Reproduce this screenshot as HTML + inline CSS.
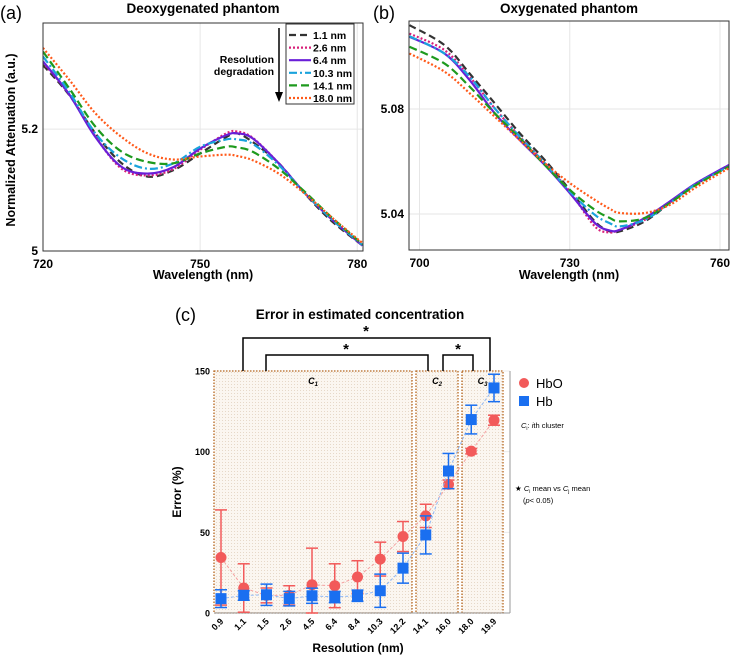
<!DOCTYPE html>
<html><head><meta charset="utf-8"><style>
body{margin:0;background:#fff;width:735px;height:657px;overflow:hidden;font-family:"Liberation Sans",Arial,sans-serif}
svg text{font-family:"Liberation Sans",Arial,sans-serif}
</style></head><body>
<svg id="fig" width="735" height="657" viewBox="0 0 735 657" xmlns="http://www.w3.org/2000/svg">
<defs>
<pattern id="dots" width="3" height="3" patternUnits="userSpaceOnUse"><rect width="3" height="3" fill="#fbf6f0"/><rect width="1" height="1" fill="#e6d8c8"/></pattern>
</defs>
<g id="pa"></g>
<g id="pb"></g>
<g id="pc"></g>
</svg>
<script>
// ---- Panel a/b data ----
const seriesLabels = ["1.1 nm","2.6 nm","6.4 nm","10.3 nm","14.1 nm","18.0 nm"];
const wlA = [720,725,730,735,740,745,750,755,757,760,765,770,775,781];
const a_1_1 = [5.305,5.256,5.193,5.144,5.122,5.133,5.160,5.187,5.193,5.179,5.144,5.094,5.050,5.009];
const a_2_6 = [5.309,5.257,5.188,5.135,5.124,5.135,5.166,5.193,5.196,5.186,5.144,5.095,5.053,5.009];
const a_6_4 = [5.311,5.257,5.187,5.138,5.127,5.138,5.168,5.190,5.193,5.185,5.144,5.095,5.053,5.009];
const a_10_3 = [5.319,5.261,5.193,5.152,5.135,5.144,5.171,5.183,5.183,5.176,5.141,5.095,5.053,5.010];
const a_14_1 = [5.327,5.267,5.204,5.163,5.146,5.144,5.160,5.171,5.170,5.163,5.135,5.097,5.056,5.011];
const a_18_0 = [5.333,5.281,5.226,5.187,5.160,5.150,5.155,5.158,5.156,5.149,5.127,5.094,5.056,5.013];
const wlB = [698,705,710,715,720,725,730,735,738,740,745,750,755,761.8];
const b_1_1 = [5.1119,5.1043,5.0935,5.0822,5.0708,5.0606,5.0492,5.0372,5.0334,5.0334,5.0372,5.0442,5.0511,5.0587];
const b_2_6 = [5.1087,5.1024,5.0923,5.0803,5.0695,5.0594,5.0486,5.0353,5.0330,5.0340,5.0378,5.0444,5.0514,5.0585];
const b_6_4 = [5.1075,5.1011,5.0910,5.0784,5.0682,5.0587,5.0480,5.0366,5.0337,5.0340,5.0385,5.0448,5.0514,5.0587];
const b_10_3 = [5.1077,5.1011,5.0923,5.0803,5.0695,5.0594,5.0486,5.0397,5.0365,5.0353,5.0378,5.0442,5.0511,5.0581];
const b_14_1 = [5.1037,5.0973,5.0885,5.0784,5.0689,5.0587,5.0492,5.0416,5.0385,5.0372,5.0385,5.0442,5.0508,5.0581];
const b_18_0 = [5.1011,5.0942,5.0860,5.0771,5.0682,5.0594,5.0518,5.0454,5.0420,5.0404,5.0404,5.0435,5.0499,5.0575];
const aTicksX = [720,750,780];
const aTicksY = [5,5.2];
const bTicksX = [700,730,760];
const bTicksY = [5.04,5.08];
// ---- Panel c data ----
const resolutions = ["0.9","1.1","1.5","2.6","4.5","6.4","8.4","10.3","12.2","14.1","16.0","18.0","19.9"];
const hboMean = [34.4,15.5,10.9,10.9,17.5,16.9,22.3,33.4,47.4,60.2,79.7,100.3,119.5];
const hboErr = [29.5,15.0,4.6,6.0,22.7,13.6,10.1,10.5,9.3,7.2,2.7,1.7,3.1];
const hbMean = [8.9,10.9,11.3,8.9,10.7,9.9,10.7,13.8,27.8,48.4,88.0,119.9,139.5];
const hbErr = [5.5,3.0,6.6,4.5,4.7,3.5,3.5,10.3,9.3,11.8,10.9,8.9,8.5];
const cTicksY = [0,50,100,150];

const NS="http://www.w3.org/2000/svg";
function mk(parent,tag,attrs,text){const e=document.createElementNS(NS,tag);for(const k in attrs)e.setAttribute(k,attrs[k]);if(text!==undefined)e.textContent=text;parent.appendChild(e);return e;}
function smooth(pts){let d="M"+pts[0][0]+","+pts[0][1];for(let i=0;i<pts.length-1;i++){const p0=pts[Math.max(i-1,0)],p1=pts[i],p2=pts[i+1],p3=pts[Math.min(i+2,pts.length-1)];
const c1=[p1[0]+(p2[0]-p0[0])/6,p1[1]+(p2[1]-p0[1])/6],c2=[p2[0]-(p3[0]-p1[0])/6,p2[1]-(p3[1]-p1[1])/6];d+=" C"+c1+" "+c2+" "+p2;}return d;}
const styles=[{c:"#333333",da:"7,4"},{c:"#d8207a",da:"2,2"},{c:"#6a1fd8",da:""},{c:"#1aa3dc",da:"8,3,2,3"},{c:"#1e9a1e",da:"8,4"},{c:"#ff5a1a",da:"2,2"}];

function spectral(g,o){
  const sx=v=>o.x0+(v-o.xmin)/(o.xmax-o.xmin)*(o.x1-o.x0);
  const sy=v=>o.y1-(v-o.ymin)/(o.ymax-o.ymin)*(o.y1-o.y0);
  mk(g,"rect",{x:o.x0,y:o.y0,width:o.x1-o.x0,height:o.y1-o.y0,fill:"#fff"});
  o.tx.forEach(t=>{const l=mk(g,"line",{x1:sx(t),x2:sx(t),y1:o.y0,y2:o.y1,stroke:"#e6e6e6","stroke-width":1});
    
    const tt=mk(g,"text",{x:sx(t),y:o.y1+17,"text-anchor":"middle","font-size":12,"font-weight":"bold"},String(t));
    });
  o.ty.forEach(t=>{const l=mk(g,"line",{x1:o.x0,x2:o.x1,y1:sy(t),y2:sy(t),stroke:"#e6e6e6","stroke-width":1});
    
    const tt=mk(g,"text",{x:o.x0-5,y:sy(t)+4,"text-anchor":"end","font-size":12,"font-weight":"bold"},String(t));
    });
  const cp=mk(g,"clipPath",{id:o.id+"clip"});mk(cp,"rect",{x:o.x0,y:o.y0,width:o.x1-o.x0,height:o.y1-o.y0});
  o.series.forEach((s,i)=>{const p=mk(g,"path",{d:smooth(o.wl.map((w,j)=>[sx(w),sy(s[j])])),fill:"none",stroke:styles[i].c,"stroke-width":2.2,"stroke-dasharray":styles[i].da,"clip-path":"url(#"+o.id+"clip)"});
    });
  mk(g,"rect",{x:o.x0,y:o.y0,width:o.x1-o.x0,height:o.y1-o.y0,fill:"none",stroke:"#333","stroke-width":1});
  const t=mk(g,"text",{x:(o.x0+o.x1)/2,y:13,"text-anchor":"middle","font-size":13.5,"font-weight":"bold"},o.title);
  
  const lb=mk(g,"text",{x:o.lx,y:19,"font-size":18},o.letter);
  
  const xt=mk(g,"text",{x:(o.x0+o.x1)/2,y:279,"text-anchor":"middle","font-size":12.5,"font-weight":"bold"},"Wavelength (nm)");
  
}
const A={id:"a",x0:43,x1:363,y0:23,y1:251,xmin:720,xmax:781.1,ymin:5,ymax:5.374,tx:aTicksX,ty:aTicksY,wl:wlA,series:[a_1_1,a_2_6,a_6_4,a_10_3,a_14_1,a_18_0],title:"Deoxygenated phantom",letter:"(a)",lx:0};
const B={id:"b",x0:409,x1:729,y0:21,y1:250,xmin:697.9,xmax:761.8,ymin:5.0263,ymax:5.1135,tx:bTicksX,ty:bTicksY,wl:wlB,series:[b_1_1,b_2_6,b_6_4,b_10_3,b_14_1,b_18_0],title:"Oxygenated phantom",letter:"(b)",lx:373};
const ga=document.getElementById("pa"),gb=document.getElementById("pb");
spectral(ga,A);spectral(gb,B);
const yt=mk(ga,"text",{transform:"translate(15,140) rotate(-90)","text-anchor":"middle","font-size":12.5,"font-weight":"bold"},"Normalized Attenuation (a.u.)");

// legend a
const lg=mk(ga,"g",{});

mk(lg,"rect",{x:286,y:24,width:68,height:80,fill:"#fff",stroke:"#333","stroke-width":1});
seriesLabels.forEach((s,i)=>{const y=35+i*12.6;
  const e=mk(lg,"g",{});
  
  mk(e,"line",{x1:289,x2:311,y1:y,y2:y,stroke:styles[i].c,"stroke-width":2.2,"stroke-dasharray":styles[i].da});
  mk(e,"text",{x:313,y:y+4,"font-size":10.5,"font-weight":"bold"},s);});
const arr=mk(ga,"g",{});

mk(arr,"line",{x1:279,x2:279,y1:28,y2:93,stroke:"#000","stroke-width":1.5});
mk(arr,"path",{d:"M275,92 L283,92 L279,102 Z",fill:"#000"});
mk(arr,"text",{x:274,y:63,"text-anchor":"end","font-size":10.5,"font-weight":"bold"},"Resolution");
mk(arr,"text",{x:274,y:75,"text-anchor":"end","font-size":10.5,"font-weight":"bold"},"degradation");

// ---- Panel c ----
const gc=document.getElementById("pc");
const cx0=214,cx1=510,cy0=371,cy1=613;
const cx=i=>221+i*22.75;
const cy=v=>cy1-v/150*(cy1-cy0);
mk(gc,"rect",{x:cx0,y:cy0,width:cx1-cx0,height:cy1-cy0,fill:"#fff"});
cTicksY.forEach(t=>{const l=mk(gc,"line",{x1:cx0,x2:cx1,y1:cy(t),y2:cy(t),stroke:"#ececec"});
  
  const tt=mk(gc,"text",{x:cx0-4,y:cy(t)+3.5,"text-anchor":"end","font-size":9,"font-weight":"bold"},String(t));
  });
resolutions.forEach((r,i)=>{const l=mk(gc,"line",{x1:cx(i),x2:cx(i),y1:cy0,y2:cy1,stroke:"#ececec"});
  
  const tt=mk(gc,"text",{transform:"translate("+(cx(i)+3)+",622) rotate(-45)","text-anchor":"end","font-size":9,"font-weight":"bold"},r);
  });
// clusters
[[214,412,"C","1"],[416,458,"C","2"],[462,503,"C","3"]].forEach(c=>{const g=mk(gc,"g",{});
  
  mk(g,"rect",{x:c[0],y:cy0,width:c[1]-c[0],height:cy1-cy0,fill:"url(#dots)",stroke:"#b5651d","stroke-width":1.3,"stroke-dasharray":"1.5,1.5"});
  const t=mk(g,"text",{x:(c[0]+c[1])/2,y:384,"text-anchor":"middle","font-size":9,"font-style":"italic","font-weight":"bold"},c[2]);
  mk(t,"tspan",{"font-size":6,dy:2},c[3]);});
mk(gc,"line",{x1:cx1,x2:cx1,y1:cy0,y2:cy1,stroke:"#999"});
mk(gc,"line",{x1:cx0,x2:cx1,y1:cy1,y2:cy1,stroke:"#999"});
// series
function drawSeries(mean,err,color,light,shape,name){
  const pts=mean.map((m,i)=>cx(i)+","+cy(m)).join(" ");
  const pl=mk(gc,"polyline",{points:pts,fill:"none",stroke:light,"stroke-width":1,"stroke-dasharray":"3,2"});
  
  mean.forEach((m,i)=>{const x=cx(i),lo=Math.max(0,m-err[i]),hi=m+err[i];
    const e=mk(gc,"g",{stroke:color,"stroke-width":1.5});
    
    mk(e,"line",{x1:x,x2:x,y1:cy(lo),y2:cy(hi)});
    mk(e,"line",{x1:x-6,x2:x+6,y1:cy(hi),y2:cy(hi)});
    mk(e,"line",{x1:x-6,x2:x+6,y1:cy(lo),y2:cy(lo)});
    let p;
    if(shape==="c")p=mk(gc,"circle",{cx:x,cy:cy(m),r:5.5,fill:color});
    else p=mk(gc,"rect",{x:x-5.5,y:cy(m)-5.5,width:11,height:11,fill:color});
    });
}
drawSeries(hboMean,hboErr,"#f25a5a","#f5a0a0","c","hbo");
drawSeries(hbMean,hbErr,"#1a6ff0","#8fb8f5","s","hb");
// brackets
const br=mk(gc,"g",{fill:"none",stroke:"#000","stroke-width":1.5});

mk(br,"path",{d:"M243,371 V338 H490 V371"});
mk(br,"path",{d:"M266,371 V355 H428 V371"});
mk(br,"path",{d:"M443,371 V355 H473 V371"});
[[366,336],[346,354],[458,354]].forEach(s=>{const t=mk(gc,"text",{x:s[0],y:s[1],"text-anchor":"middle","font-size":15,"font-weight":"bold"},"*");});
const tc=mk(gc,"text",{x:360,y:319,"text-anchor":"middle","font-size":13.5,"font-weight":"bold"},"Error in estimated concentration");

const lc=mk(gc,"text",{x:175,y:321,"font-size":18},"(c)");

const cyt=mk(gc,"text",{transform:"translate(181,492) rotate(-90)","text-anchor":"middle","font-size":12,"font-weight":"bold"},"Error (%)");

const cxt=mk(gc,"text",{x:358,y:652,"text-anchor":"middle","font-size":12,"font-weight":"bold"},"Resolution (nm)");

// legend c
const l1=mk(gc,"g",{});
mk(l1,"circle",{cx:524,cy:383,r:5,fill:"#f25a5a"});mk(l1,"text",{x:536,y:388,"font-size":13},"HbO");
const l2=mk(gc,"g",{});
mk(l2,"rect",{x:519,y:396,width:10,height:10,fill:"#1a6ff0"});mk(l2,"text",{x:536,y:406,"font-size":13},"Hb");
const n1=mk(gc,"text",{x:521,y:428,"font-size":7.5},"");

mk(n1,"tspan",{"font-style":"italic"},"C");mk(n1,"tspan",{"font-size":5,dy:2},"i");mk(n1,"tspan",{dy:-2},": ");mk(n1,"tspan",{"font-style":"italic"},"i");mk(n1,"tspan",{},"th cluster");
const n2=mk(gc,"text",{x:515,y:491,"font-size":7.5},"");

mk(n2,"tspan",{},"★ ");mk(n2,"tspan",{"font-style":"italic"},"C");mk(n2,"tspan",{"font-size":5,dy:2},"i");mk(n2,"tspan",{dy:-2}," mean vs ");mk(n2,"tspan",{"font-style":"italic"},"C");mk(n2,"tspan",{"font-size":5,dy:2},"j");mk(n2,"tspan",{dy:-2}," mean");
const n3=mk(gc,"text",{x:523,y:503,"font-size":7.5},"(");

mk(n3,"tspan",{"font-style":"italic"},"p");mk(n3,"tspan",{},"< 0.05)");
</script>
</body></html>
